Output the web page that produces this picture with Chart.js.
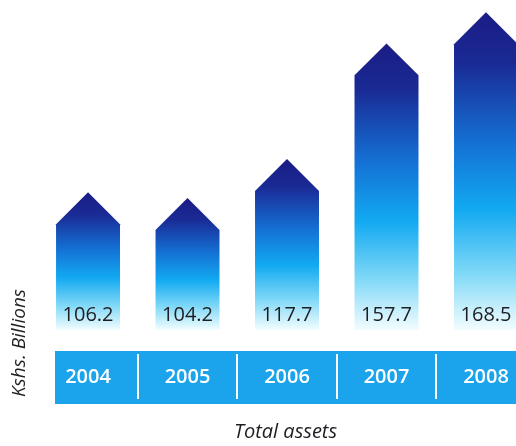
<!DOCTYPE html>
<html>
<head>
<meta charset="utf-8">
<script src="https://cdn.jsdelivr.net/npm/chart.js@4/dist/chart.umd.min.js"></script>
<style>
  html, body { margin: 0; padding: 0; background: #fff; }
  #wrap { width: 516px; height: 446px; position: relative; }
</style>
</head>
<body>
<div id="wrap"><canvas id="chAssets"></canvas></div>
<script>
// Total assets, Kshs. billions
var YEARS = ["2004", "2005", "2006", "2007", "2008"];
var ASSETS = [106.2, 104.2, 117.7, 157.7, 168.5];

var BAND = "#1ba4eb", INK = "#1d1d22";
var FONT = "'Open Sans', sans-serif";

// arrow-shaped bars with a navy -> sky -> white fade, value printed near the foot
var arrowBars = {
  id: "arrowBars",
  beforeDraw: function (chart) {
    var ctx = chart.ctx, xs = chart.scales.x, a = chart.chartArea;
    var top = a.bottom + 21, bot = a.bottom + 74;
    ctx.save();
    ctx.fillStyle = BAND;
    ctx.fillRect(a.left, top, chart.width - a.left, bot - top);
    ctx.strokeStyle = "#fff";
    ctx.lineWidth = 2;
    for (var i = 0; i < YEARS.length - 1; i++) {
      var sx = Math.round(xs.getPixelForValue(i + 0.5));
      ctx.beginPath();
      ctx.moveTo(sx, top + 3);
      ctx.lineTo(sx, bot - 5);
      ctx.stroke();
    }
    ctx.restore();
  },
  afterDatasetsDraw: function (chart) {
    var ctx = chart.ctx, meta = chart.getDatasetMeta(0), a = chart.chartArea;
    ctx.save();
    meta.data.forEach(function (el, i) {
      var w = el.width, l = el.x - w / 2, r = el.x + w / 2;
      var tip = el.y, head = w / 2, base = Math.min(el.base, a.bottom);
      var g = ctx.createLinearGradient(0, tip, 0, base);
      g.addColorStop(0, "#1b1c84");
      g.addColorStop(0.16, "#1a2a95");
      g.addColorStop(0.42, "#1473d6");
      g.addColorStop(0.62, "#12a9f1");
      g.addColorStop(0.82, "#7fd8f7");
      g.addColorStop(1, "#f2fdff");
      ctx.fillStyle = g;
      ctx.beginPath();
      ctx.moveTo(el.x, tip);
      ctx.lineTo(r, tip + head);
      ctx.lineTo(r, base);
      ctx.lineTo(l, base);
      ctx.lineTo(l, tip + head);
      ctx.closePath();
      ctx.fill();

      ctx.fillStyle = INK;
      ctx.font = "20px " + FONT;
      ctx.textAlign = "center";
      ctx.textBaseline = "middle";
      ctx.fillText(ASSETS[i].toFixed(1), el.x, base - 15);
    });

    // vertical unit label
    ctx.translate(20, 343);
    ctx.rotate(-Math.PI / 2);
    ctx.font = "italic 19px " + FONT;
    ctx.fillStyle = INK;
    ctx.textAlign = "center";
    ctx.textBaseline = "middle";
    ctx.fillText("Kshs. Billions", 0, 0);
    ctx.restore();
  }
};

new Chart(document.getElementById("chAssets"), {
  type: "bar",
  data: {
    datasets: [{
      data: ASSETS.map(function (v, i) { return { x: i, y: v }; }),
      backgroundColor: "rgba(0,0,0,0)",
      barPercentage: 0.643,
      categoryPercentage: 1
    }]
  },
  options: {
    responsive: true, maintainAspectRatio: false, animation: false,
    layout: { padding: { left: 55, top: 0, right: 0, bottom: 0 } },
    plugins: { legend: { display: false }, tooltip: { enabled: false } },
    scales: {
      x: {
        type: "linear", min: -0.332, max: 4.3015, offset: false,
        grid: { display: false, drawTicks: false, offset: false }, border: { display: false },
        afterBuildTicks: function (s) { s.ticks = YEARS.map(function (y, i) { return { value: i }; }); },
        afterFit: function (s) { s.height = 116; s.paddingLeft = 0; s.paddingRight = 0; },
        ticks: {
          color: "#fff", padding: 35, autoSkip: false, maxRotation: 0,
          font: { family: FONT, size: 20, weight: "600" },
          callback: function (v) { return YEARS[v]; }
        },
        title: {
          display: true, text: "Total assets", color: INK,
          font: { family: FONT, size: 20, style: "italic" },
          padding: { top: 0, bottom: 2 }
        }
      },
      y: { display: false, min: 58.6, max: 172.7 }
    }
  },
  plugins: [arrowBars]
});
</script>
</body>
</html>
